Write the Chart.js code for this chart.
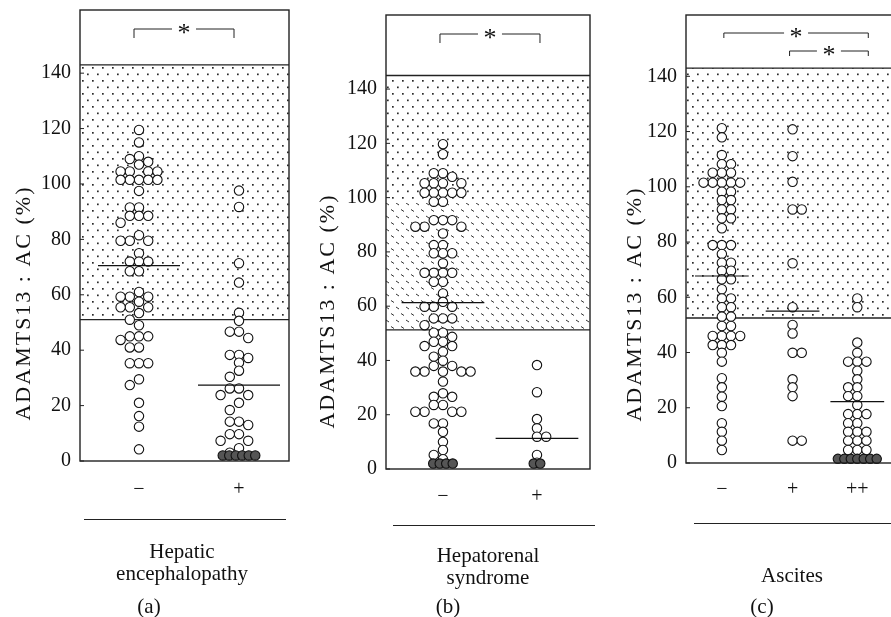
<!DOCTYPE html>
<html><head><meta charset="utf-8">
<script src="https://cdn.jsdelivr.net/npm/chart.js@4.4.1/dist/chart.umd.min.js"></script>
<style>
html,body{margin:0;padding:0;background:#fff;overflow:hidden;width:891px;height:617px;position:relative}
canvas{position:absolute;top:0}
.t{position:absolute;font-family:"Liberation Serif","Times New Roman",serif;font-size:21px;color:#111;white-space:nowrap;transform:translate(-50%,-50%);line-height:22px}
.hl{position:absolute;height:0;border-top:1.4px solid #222}
</style></head><body>
<canvas id="ca" width="300" height="617" style="left:0"></canvas>
<canvas id="cb" width="300" height="617" style="left:300px"></canvas>
<canvas id="cc" width="300" height="617" style="left:600px"></canvas>

<div class="hl" style="left:84px;width:202px;top:519px"></div>
<div class="t" style="left:182px;top:551px">Hepatic</div>
<div class="t" style="left:182px;top:573px">encephalopathy</div>
<div class="t" style="left:149px;top:606px">(a)</div>

<div class="hl" style="left:393px;width:202px;top:525px"></div>
<div class="t" style="left:488px;top:555px">Hepatorenal</div>
<div class="t" style="left:488px;top:577px">syndrome</div>
<div class="t" style="left:448px;top:606px">(b)</div>

<div class="hl" style="left:694px;width:200px;top:523px"></div>
<div class="t" style="left:792px;top:575px">Ascites</div>
<div class="t" style="left:762px;top:606px">(c)</div>

<script>
// ---------------- DATA ----------------
const yTickValues = [0, 20, 40, 60, 80, 100, 120, 140];
const yAxisTitle = 'ADAMTS13 : AC (%)';

// (a) Hepatic encephalopathy
const aCategories = ['\u2212', '+'];
const aNegValues = [119.5, 115, 110, 109, 108, 107, 104.5, 104.5, 104.5, 104.5, 101.5, 101.5, 101.5, 101.5, 101.5,
  97.5, 91.5, 91.5, 88.5, 88.5, 88.5, 86, 81.5, 79.5, 79.5, 79.5, 75, 72, 72, 72, 68.5, 68.5, 61, 59.3, 59.3, 59.3,
  57.5, 55.5, 55.5, 55.5, 53.4, 51, 49, 45, 45, 45, 43.7, 41, 41, 35.3, 35.3, 35.3, 29.5, 27.4, 21, 16.2, 12.4, 4.2];
const aPosValues = [97.6, 91.7, 71.4, 64.4, 53.5, 50.6, 46.7, 46.7, 44.4, 38.3, 38.3, 37.2, 35.5, 32.6, 30.4, 26.2, 26.2,
  23.8, 23.8, 21, 18.4, 14.2, 14.2, 13, 9.7, 9.7, 7.3, 7.3, 4.6, 3];
const aPosBelowDetection = [2, 2, 2, 2, 2, 2];
const aMeans = [70.5, 27.4];
const aNormalRange = [51, 143];

// (b) Hepatorenal syndrome
const bCategories = ['\u2212', '+'];
const bNegValues = [119.7, 116, 109, 109, 107.7, 105.3, 105.3, 105.3, 105.3, 101.8, 101.8, 101.8, 101.8, 101.8, 98.5, 98.5,
  91.7, 91.7, 91.7, 89.3, 89.3, 89.3, 86.8, 82.5, 82.5, 79.5, 79.5, 79.5, 75.8, 72.3, 72.3, 72.3, 72.3, 69, 69, 64.7, 61.6,
  59.8, 59.8, 59.8, 55.5, 55.5, 55.5, 53, 50.2, 50.2, 48.7, 46.9, 46.9, 45.3, 45.3, 43.2, 41.4, 39.9, 38, 38,
  35.9, 35.9, 35.9, 35.9, 35.9, 32.2, 27.9, 26.6, 26.6, 23.6, 23.6, 21.1, 21.1, 21.1, 21.1, 16.8, 16.8, 13.7, 10, 7, 5.2, 3.6];
const bNegBelowDetection = [2, 2, 2, 2];
const bPosValues = [38.3, 28.3, 18.4, 15, 11.9, 11.9, 5.2, 2.3];
const bPosBelowDetection = [2, 2];
const bMeans = [61.3, 11.3];
const bNormalRange = [51.3, 145];

// (c) Ascites
const cCategories = ['\u2212', '+', '++'];
const cNegValues = [121.2, 117.9, 111.5, 108.2, 108.2, 105.1, 105.1, 105.1, 101.5, 101.5, 101.5, 101.5, 101.5, 98.2, 98.2,
  95.2, 95.2, 91.8, 91.8, 88.6, 88.6, 85, 78.9, 78.9, 78.9, 75.7, 72.5, 72.5, 69.6, 69.6, 66.5, 66.5, 62.9, 59.6, 59.6,
  56.4, 56.4, 53, 53, 49.6, 49.6, 46, 46, 46, 46, 42.7, 42.7, 42.7, 39.9, 36.7, 30.7, 27.4, 24, 20.6, 14.4, 11.3, 8.1, 4.7];
const cPosValues = [120.8, 111.1, 101.8, 91.8, 91.8, 72.3, 56.4, 50, 46.9, 39.9, 39.9, 30.3, 27.4, 24.2, 8.1, 8.1];
const cPos2Values = [59.6, 56.4, 43.6, 39.9, 36.7, 36.7, 36.7, 33.4, 30.3, 27.4, 27.4, 24.2, 24.2, 21, 17.7, 17.7, 17.7,
  14.4, 14.4, 11.3, 11.3, 11.3, 8.1, 8.1, 8.1, 4.7, 4.7, 4.7];
const cPos2BelowDetection = [1.5, 1.5, 1.5, 1.5, 1.5, 1.5, 1.5];
const cMeans = [67.7, 55, 22.2];
const cNormalRange = [52.5, 143];

// ---------------- LAYOUT ----------------
const FONT = '"Liberation Serif","Times New Roman",serif';
const COL_SP = 9.2, MIN_D = 7.6, FILL_SP = 6.5, DOT_R = 4.7;
const P_LEFT = [0, -1, 1, -2, 2, -3, 3, -4, 4, -5, 5];
const P_RIGHT = [0, 1, -1, 2, -2, 3, -3, 4, -4, 5, -5];

function swarm(vals, pyu, pref) {
  const placed = [], out = new Array(vals.length);
  const idx = vals.map((v, i) => i).sort((p, q) => vals[q] - vals[p]);
  for (const i of idx) {
    const y = vals[i] * pyu;
    let chosen = 0;
    for (const k of pref) {
      const c = k * COL_SP;
      if (placed.every(p => Math.hypot(p.x - c, p.y - y) >= MIN_D)) { chosen = c; break; }
    }
    placed.push({ x: chosen, y }); out[i] = chosen;
  }
  return out;
}

function patterns(ctx) {
  const d = document.createElement('canvas'); d.width = 10; d.height = 13;
  const g = d.getContext('2d'); g.fillStyle = '#2a2a2a';
  g.fillRect(2, 2, 1.7, 1.7); g.fillRect(7, 8.5, 1.7, 1.7);
  const s = document.createElement('canvas'); s.width = 10; s.height = 13;
  const h = s.getContext('2d'); h.strokeStyle = '#333'; h.lineWidth = 1;
  h.beginPath(); h.moveTo(1, 1.5); h.lineTo(4, 3.5); h.moveTo(6, 8); h.lineTo(9, 10); h.stroke();
  return { dots: ctx.createPattern(d, 'repeat'), dashes: ctx.createPattern(s, 'repeat') };
}

const panels = [
  { id: 'ca', axisW: 80, padR: 11, padT: 10, padB: 156, areaTop: 10, areaBottom: 461,
    yMax: 162.8, xMin: -0.59, xMax: 1.50, xpu: 100, catPos: [0, 1], meanHalf: 0.41, catY: 490,
    cats: aCategories, range: aNormalRange, dashBelow: null, title: [24, 303],
    groups: [ { values: aNegValues, low: [], mean: aMeans[0], pref: P_LEFT },
              { values: aPosValues, low: aPosBelowDetection, mean: aMeans[1], pref: P_LEFT } ],
    brackets: [ { c1: 0, c2: 1, dx1: -5, dx2: -5, y: 29, drop: 9 } ] },
  { id: 'cb', axisW: 86, padR: 10, padT: 15, padB: 148, areaTop: 15, areaBottom: 469,
    yMax: 167.3, xMin: -0.606, xMax: 1.564, xpu: 94, catPos: [0, 1], meanHalf: 0.44, catY: 497,
    cats: bCategories, range: bNormalRange, dashBelow: 98, title: [28, 311],
    groups: [ { values: bNegValues, low: bNegBelowDetection, mean: bMeans[0], pref: P_LEFT },
              { values: bPosValues, low: bPosBelowDetection, mean: bMeans[1], pref: P_RIGHT } ],
    brackets: [ { c1: 0, c2: 1, dx1: -3, dx2: 3, y: 34, drop: 9 } ] },
  { id: 'cc', axisW: 86, padR: 5, padT: 15, padB: 154, areaTop: 15, areaBottom: 463,
    yMax: 162.2, xMin: -0.507, xMax: 2.437, xpu: 71, catPos: [0, 1, 1.915], meanHalf: 0.38, catY: 490,
    cats: cCategories, range: cNormalRange, dashBelow: null, title: [35, 304],
    groups: [ { values: cNegValues, low: [], mean: cMeans[0], pref: P_RIGHT },
              { values: cPosValues, low: [], mean: cMeans[1], pref: P_RIGHT },
              { values: cPos2Values, low: cPos2BelowDetection, mean: cMeans[2], pref: P_LEFT } ],
    brackets: [ { c1: 0, c2: 2, dx1: 2, dx2: 11, y: 33, drop: 5 },
                { c1: 1, c2: 2, dx1: -3, dx2: 11, y: 51, drop: 5 } ] }
];

function build(P) {
  const canvas = document.getElementById(P.id);
  const pat = patterns(canvas.getContext('2d'));
  const pyu = (P.areaBottom - P.areaTop) / P.yMax;
  const datasets = [];
  P.groups.forEach((g, gi) => {
    const cx = P.catPos[gi];
    const offs = swarm(g.values, pyu, g.pref);
    datasets.push({ type: 'scatter', order: 2, clip: false,
      data: g.values.map((v, i) => ({ x: cx + offs[i] / P.xpu, y: v })),
      pointRadius: DOT_R, pointBorderWidth: 1.1, borderColor: '#111', backgroundColor: '#fff' });
    if (g.low.length) {
      const n = g.low.length;
      datasets.push({ type: 'scatter', order: 1, clip: false,
        data: g.low.map((v, i) => ({ x: cx + (i - (n - 1) / 2) * FILL_SP / P.xpu, y: v })),
        pointRadius: DOT_R, pointBorderWidth: 1.1, borderColor: '#111', backgroundColor: '#555' });
    }
    datasets.push({ type: 'line', order: 0, clip: false,
      data: [{ x: cx - P.meanHalf, y: g.mean }, { x: cx + P.meanHalf, y: g.mean }],
      borderColor: '#111', borderWidth: 1.2, pointRadius: 0 });
  });

  const deco = {
    id: 'deco',
    beforeDatasetsDraw(chart) {
      const { ctx, chartArea: a, scales: { y } } = chart;
      const yT = y.getPixelForValue(P.range[1]), yB = y.getPixelForValue(P.range[0]);
      ctx.save();
      if (P.dashBelow) {
        const yD = y.getPixelForValue(P.dashBelow);
        ctx.fillStyle = pat.dots; ctx.fillRect(a.left, yT, a.right - a.left, yD - yT);
        ctx.fillStyle = pat.dashes; ctx.fillRect(a.left, yD, a.right - a.left, yB - yD);
      } else {
        ctx.fillStyle = pat.dots; ctx.fillRect(a.left, yT, a.right - a.left, yB - yT);
      }
      ctx.strokeStyle = '#222'; ctx.lineWidth = 1.3;
      ctx.beginPath(); ctx.moveTo(a.left, yT); ctx.lineTo(a.right, yT);
      ctx.moveTo(a.left, yB); ctx.lineTo(a.right, yB); ctx.stroke();
      ctx.restore();
    },
    afterDatasetsDraw(chart) {
      const { ctx, chartArea: a, scales: { y } } = chart;
      ctx.save();
      ctx.strokeStyle = '#222'; ctx.lineWidth = 1.4;
      ctx.strokeRect(a.left, a.top, a.right - a.left, a.bottom - a.top);
      ctx.lineWidth = 1;
      ctx.beginPath();
      yTickValues.forEach(v => { const py = y.getPixelForValue(v); ctx.moveTo(a.left, py); ctx.lineTo(a.left + 4, py); });
      ctx.stroke();
      ctx.restore();
    },
    afterDraw(chart) {
      const { ctx, scales: { x } } = chart;
      ctx.save();
      ctx.fillStyle = '#111'; ctx.textAlign = 'center'; ctx.textBaseline = 'middle';
      ctx.font = '20px ' + FONT;
      P.cats.forEach((c, i) => ctx.fillText(c, x.getPixelForValue(P.catPos[i]), P.catY));
      // significance brackets
      ctx.strokeStyle = '#222'; ctx.lineWidth = 1;
      P.brackets.forEach(b => {
        const x1 = x.getPixelForValue(P.catPos[b.c1]) + b.dx1, x2 = x.getPixelForValue(P.catPos[b.c2]) + b.dx2;
        const xm = (x1 + x2) / 2, gap = 12;
        ctx.beginPath();
        ctx.moveTo(x1, b.y + b.drop); ctx.lineTo(x1, b.y); ctx.lineTo(xm - gap, b.y);
        ctx.moveTo(xm + gap, b.y); ctx.lineTo(x2, b.y); ctx.lineTo(x2, b.y + b.drop);
        ctx.stroke();
        ctx.font = '26px ' + FONT;
        ctx.fillText('*', xm, b.y + 5);
      });
      // y axis title
      ctx.font = '22px ' + FONT;
      ctx.letterSpacing = '2px';
      ctx.translate(P.title[0], P.title[1]); ctx.rotate(-Math.PI / 2);
      ctx.fillText(yAxisTitle, 0, 0);
      ctx.restore();
    }
  };

  new Chart(canvas, {
    data: { datasets },
    options: {
      responsive: false, animation: false, events: [],
      layout: { padding: { left: 0, right: P.padR, top: P.padT, bottom: P.padB } },
      plugins: { legend: { display: false }, tooltip: { enabled: false } },
      scales: {
        x: { type: 'linear', min: P.xMin, max: P.xMax, display: false },
        y: { type: 'linear', min: 0, max: P.yMax, position: 'left',
          afterFit(s) { s.width = P.axisW; s.paddingTop = 0; s.paddingBottom = 0; },
          afterBuildTicks(s) { s.ticks = yTickValues.map(v => ({ value: v })); },
          ticks: { autoSkip: false, font: { family: FONT, size: 20 }, color: '#111', padding: 9 },
          grid: { display: false, drawTicks: false }, border: { display: false } }
      }
    },
    plugins: [deco]
  });
}
panels.forEach(build);
</script>
</body></html>
